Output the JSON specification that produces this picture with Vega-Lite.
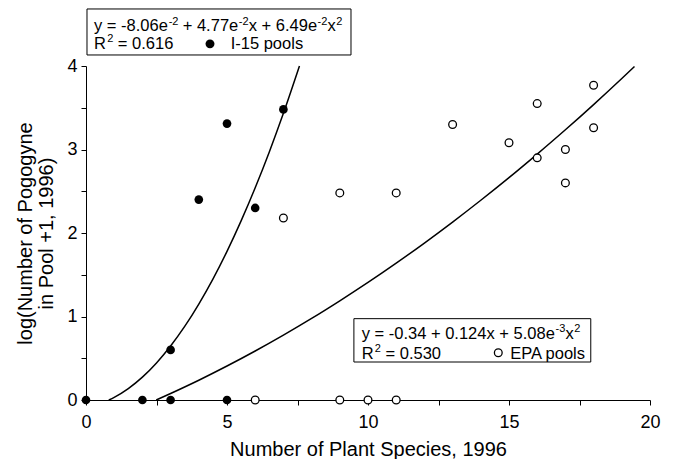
{
  "$schema": "https://vega.github.io/schema/vega-lite/v6.json",
  "width": 564,
  "height": 334,
  "autosize": {"type": "none"},
  "padding": {"left": 86, "top": 66, "right": 23, "bottom": 59},
  "background": "white",
  "config": {
    "view": {"stroke": null},
    "font": "Liberation Sans",
    "text": {"font": "Liberation Sans", "color": "black", "align": "left", "baseline": "alphabetic"},
    "axis": {
      "grid": false,
      "domainColor": "black",
      "domainWidth": 1,
      "tickColor": "black",
      "tickWidth": 1,
      "tickSize": 5,
      "labelColor": "black",
      "titleColor": "black",
      "labelFont": "Liberation Sans",
      "titleFont": "Liberation Sans",
      "labelFontSize": 18,
      "titleFontSize": 20,
      "titleFontWeight": "normal",
      "labelPadding": 3
    }
  },
  "datasets": {
    "points": [
      {"site": "I-15 pools", "species": 0, "logPogogyne": 0},
      {"site": "I-15 pools", "species": 2, "logPogogyne": 0},
      {"site": "I-15 pools", "species": 3, "logPogogyne": 0},
      {"site": "I-15 pools", "species": 3, "logPogogyne": 0.6},
      {"site": "I-15 pools", "species": 4, "logPogogyne": 2.4},
      {"site": "I-15 pools", "species": 5, "logPogogyne": 3.31},
      {"site": "I-15 pools", "species": 5, "logPogogyne": 0},
      {"site": "I-15 pools", "species": 6, "logPogogyne": 2.3},
      {"site": "I-15 pools", "species": 7, "logPogogyne": 3.48},
      {"site": "EPA pools", "species": 6, "logPogogyne": 0},
      {"site": "EPA pools", "species": 9, "logPogogyne": 0},
      {"site": "EPA pools", "species": 10, "logPogogyne": 0},
      {"site": "EPA pools", "species": 11, "logPogogyne": 0},
      {"site": "EPA pools", "species": 7, "logPogogyne": 2.18},
      {"site": "EPA pools", "species": 9, "logPogogyne": 2.48},
      {"site": "EPA pools", "species": 11, "logPogogyne": 2.48},
      {"site": "EPA pools", "species": 13, "logPogogyne": 3.3},
      {"site": "EPA pools", "species": 15, "logPogogyne": 3.08},
      {"site": "EPA pools", "species": 16, "logPogogyne": 3.55},
      {"site": "EPA pools", "species": 16, "logPogogyne": 2.9},
      {"site": "EPA pools", "species": 17, "logPogogyne": 3.0},
      {"site": "EPA pools", "species": 17, "logPogogyne": 2.6},
      {"site": "EPA pools", "species": 18, "logPogogyne": 3.77},
      {"site": "EPA pools", "species": 18, "logPogogyne": 3.26}
    ],
    "fits": [
      {"site": "I-15 pools", "species": 0.807, "logPogogyne": 0},
      {"site": "I-15 pools", "species": 1, "logPogogyne": 0.032},
      {"site": "I-15 pools", "species": 1.5, "logPogogyne": 0.137},
      {"site": "I-15 pools", "species": 2, "logPogogyne": 0.274},
      {"site": "I-15 pools", "species": 2.5, "logPogogyne": 0.444},
      {"site": "I-15 pools", "species": 3, "logPogogyne": 0.647},
      {"site": "I-15 pools", "species": 3.5, "logPogogyne": 0.881},
      {"site": "I-15 pools", "species": 4, "logPogogyne": 1.149},
      {"site": "I-15 pools", "species": 4.5, "logPogogyne": 1.448},
      {"site": "I-15 pools", "species": 5, "logPogogyne": 1.78},
      {"site": "I-15 pools", "species": 5.5, "logPogogyne": 2.145},
      {"site": "I-15 pools", "species": 6, "logPogogyne": 2.542},
      {"site": "I-15 pools", "species": 6.5, "logPogogyne": 2.971},
      {"site": "I-15 pools", "species": 7, "logPogogyne": 3.433},
      {"site": "I-15 pools", "species": 7.57, "logPogogyne": 4.0},
      {"site": "EPA pools", "species": 2.49, "logPogogyne": 0},
      {"site": "EPA pools", "species": 3, "logPogogyne": 0.078},
      {"site": "EPA pools", "species": 4, "logPogogyne": 0.237},
      {"site": "EPA pools", "species": 5, "logPogogyne": 0.407},
      {"site": "EPA pools", "species": 6, "logPogogyne": 0.587},
      {"site": "EPA pools", "species": 7, "logPogogyne": 0.777},
      {"site": "EPA pools", "species": 8, "logPogogyne": 0.977},
      {"site": "EPA pools", "species": 9, "logPogogyne": 1.188},
      {"site": "EPA pools", "species": 10, "logPogogyne": 1.408},
      {"site": "EPA pools", "species": 11, "logPogogyne": 1.639},
      {"site": "EPA pools", "species": 12, "logPogogyne": 1.88},
      {"site": "EPA pools", "species": 13, "logPogogyne": 2.131},
      {"site": "EPA pools", "species": 14, "logPogogyne": 2.392},
      {"site": "EPA pools", "species": 15, "logPogogyne": 2.663},
      {"site": "EPA pools", "species": 16, "logPogogyne": 2.945},
      {"site": "EPA pools", "species": 17, "logPogogyne": 3.236},
      {"site": "EPA pools", "species": 18, "logPogogyne": 3.538},
      {"site": "EPA pools", "species": 19, "logPogogyne": 3.85},
      {"site": "EPA pools", "species": 19.45, "logPogogyne": 3.994}
    ]
  },
  "layer": [
    {
      "data": {"name": "fits"},
      "mark": {"type": "line", "color": "black", "strokeWidth": 1.5, "interpolate": "monotone", "clip": false},
      "encoding": {
        "x": {
          "field": "species", "type": "quantitative",
          "scale": {"domain": [0, 20], "nice": false, "zero": false},
          "axis": {
            "title": "Number of Plant Species, 1996",
            "values": [0, 2.5, 5, 7.5, 10, 12.5, 15, 17.5, 20],
            "labelExpr": "datum.value % 5 === 0 ? format(datum.value, 'd') : ''",
            "labelFlush": false,
            "labelOverlap": false,
            "labelPadding": 8,
            "titlePadding": 8
          }
        },
        "y": {
          "field": "logPogogyne", "type": "quantitative",
          "scale": {"domain": [0, 4], "nice": false, "zero": false},
          "axis": {
            "title": ["log(Number of Pogogyne", "in Pool +1, 1996)"],
            "values": [0, 0.5, 1, 1.5, 2, 2.5, 3, 3.5, 4],
            "labelExpr": "datum.value % 1 === 0 ? format(datum.value, 'd') : ''",
            "labelFlush": false,
            "labelOverlap": false,
            "labelPadding": 4,
            "titleLineHeight": 21,
            "titlePadding": 10
          }
        },
        "detail": {"field": "site"}
      }
    },
    {
      "data": {"name": "points"},
      "transform": [{"filter": "datum.site === 'EPA pools'"}],
      "mark": {"type": "point", "shape": "circle", "filled": false, "color": "black", "fill": "white", "fillOpacity": 1, "strokeWidth": 1.3, "size": 60, "opacity": 1, "clip": false},
      "encoding": {
        "x": {"field": "species", "type": "quantitative"},
        "y": {"field": "logPogogyne", "type": "quantitative"}
      }
    },
    {
      "data": {"name": "points"},
      "transform": [{"filter": "datum.site === 'I-15 pools'"}],
      "mark": {"type": "point", "shape": "circle", "filled": true, "color": "black", "size": 75, "opacity": 1, "clip": false},
      "encoding": {
        "x": {"field": "species", "type": "quantitative"},
        "y": {"field": "logPogogyne", "type": "quantitative"}
      }
    },
    {
      "data": {"values": [{}]},
      "mark": {"type": "rect", "fill": "white", "stroke": "black", "strokeWidth": 1, "clip": false},
      "encoding": {
        "x": {"datum": 0.035, "type": "quantitative"},
        "x2": {"datum": 9.397},
        "y": {"datum": 4.683, "type": "quantitative"},
        "y2": {"datum": 4.132}
      }
    },
    {
      "data": {"values": [{}]},
      "mark": {"type": "rect", "fill": "white", "stroke": "black", "strokeWidth": 1, "clip": false},
      "encoding": {
        "x": {"datum": 9.5, "type": "quantitative"},
        "x2": {"datum": 17.9},
        "y": {"datum": 0.974, "type": "quantitative"},
        "y2": {"datum": 0.455}
      }
    },
    {"data": {"values": [{}]}, "mark": {"type": "text", "text": "y = -8.06e", "fontSize": 16.5},
     "encoding": {"x": {"datum": 0.284, "type": "quantitative"}, "y": {"datum": 4.419, "type": "quantitative"}}},
    {"data": {"values": [{}]}, "mark": {"type": "text", "text": "-2", "fontSize": 11, "dy": -6.5},
     "encoding": {"x": {"datum": 2.93, "type": "quantitative"}, "y": {"datum": 4.419, "type": "quantitative"}}},
    {"data": {"values": [{}]}, "mark": {"type": "text", "text": "+ 4.77e", "fontSize": 16.5},
     "encoding": {"x": {"datum": 3.43, "type": "quantitative"}, "y": {"datum": 4.419, "type": "quantitative"}}},
    {"data": {"values": [{}]}, "mark": {"type": "text", "text": "-2", "fontSize": 11, "dy": -6.5},
     "encoding": {"x": {"datum": 5.42, "type": "quantitative"}, "y": {"datum": 4.419, "type": "quantitative"}}},
    {"data": {"values": [{}]}, "mark": {"type": "text", "text": "x + 6.49e", "fontSize": 16.5},
     "encoding": {"x": {"datum": 5.77, "type": "quantitative"}, "y": {"datum": 4.419, "type": "quantitative"}}},
    {"data": {"values": [{}]}, "mark": {"type": "text", "text": "-2", "fontSize": 11, "dy": -6.5},
     "encoding": {"x": {"datum": 8.21, "type": "quantitative"}, "y": {"datum": 4.419, "type": "quantitative"}}},
    {"data": {"values": [{}]}, "mark": {"type": "text", "text": "x", "fontSize": 16.5},
     "encoding": {"x": {"datum": 8.56, "type": "quantitative"}, "y": {"datum": 4.419, "type": "quantitative"}}},
    {"data": {"values": [{}]}, "mark": {"type": "text", "text": "2", "fontSize": 11, "dy": -6.5},
     "encoding": {"x": {"datum": 8.87, "type": "quantitative"}, "y": {"datum": 4.419, "type": "quantitative"}}},
    {"data": {"values": [{}]}, "mark": {"type": "text", "text": "R", "fontSize": 16.5},
     "encoding": {"x": {"datum": 0.284, "type": "quantitative"}, "y": {"datum": 4.204, "type": "quantitative"}}},
    {"data": {"values": [{}]}, "mark": {"type": "text", "text": "2", "fontSize": 11, "dy": -6.5},
     "encoding": {"x": {"datum": 0.75, "type": "quantitative"}, "y": {"datum": 4.204, "type": "quantitative"}}},
    {"data": {"values": [{}]}, "mark": {"type": "text", "text": "= 0.616", "fontSize": 16.5},
     "encoding": {"x": {"datum": 1.13, "type": "quantitative"}, "y": {"datum": 4.204, "type": "quantitative"}}},
    {"data": {"values": [{}]}, "mark": {"type": "text", "text": "I-15 pools", "fontSize": 16.5},
     "encoding": {"x": {"datum": 5.13, "type": "quantitative"}, "y": {"datum": 4.204, "type": "quantitative"}}},
    {
      "data": {"values": [{}]},
      "mark": {"type": "point", "shape": "circle", "filled": true, "color": "black", "size": 80, "opacity": 1, "clip": false},
      "encoding": {"x": {"datum": 4.397, "type": "quantitative"}, "y": {"datum": 4.265, "type": "quantitative"}}
    },
    {"data": {"values": [{}]}, "mark": {"type": "text", "text": "y = -0.34 + 0.124x + 5.08e", "fontSize": 16.5},
     "encoding": {"x": {"datum": 9.777, "type": "quantitative"}, "y": {"datum": 0.731, "type": "quantitative"}}},
    {"data": {"values": [{}]}, "mark": {"type": "text", "text": "-3", "fontSize": 11, "dy": -6.5},
     "encoding": {"x": {"datum": 16.65, "type": "quantitative"}, "y": {"datum": 0.731, "type": "quantitative"}}},
    {"data": {"values": [{}]}, "mark": {"type": "text", "text": "x", "fontSize": 16.5},
     "encoding": {"x": {"datum": 17.0, "type": "quantitative"}, "y": {"datum": 0.731, "type": "quantitative"}}},
    {"data": {"values": [{}]}, "mark": {"type": "text", "text": "2", "fontSize": 11, "dy": -6.5},
     "encoding": {"x": {"datum": 17.31, "type": "quantitative"}, "y": {"datum": 0.731, "type": "quantitative"}}},
    {"data": {"values": [{}]}, "mark": {"type": "text", "text": "R", "fontSize": 16.5},
     "encoding": {"x": {"datum": 9.777, "type": "quantitative"}, "y": {"datum": 0.497, "type": "quantitative"}}},
    {"data": {"values": [{}]}, "mark": {"type": "text", "text": "2", "fontSize": 11, "dy": -6.5},
     "encoding": {"x": {"datum": 10.24, "type": "quantitative"}, "y": {"datum": 0.497, "type": "quantitative"}}},
    {"data": {"values": [{}]}, "mark": {"type": "text", "text": "= 0.530", "fontSize": 16.5},
     "encoding": {"x": {"datum": 10.62, "type": "quantitative"}, "y": {"datum": 0.497, "type": "quantitative"}}},
    {"data": {"values": [{}]}, "mark": {"type": "text", "text": "EPA pools", "fontSize": 16.5},
     "encoding": {"x": {"datum": 15.04, "type": "quantitative"}, "y": {"datum": 0.497, "type": "quantitative"}}},
    {
      "data": {"values": [{}]},
      "mark": {"type": "point", "shape": "circle", "filled": false, "color": "black", "strokeWidth": 1.3, "size": 60, "opacity": 1, "clip": false},
      "encoding": {"x": {"datum": 14.62, "type": "quantitative"}, "y": {"datum": 0.565, "type": "quantitative"}}
    }
  ]
}
